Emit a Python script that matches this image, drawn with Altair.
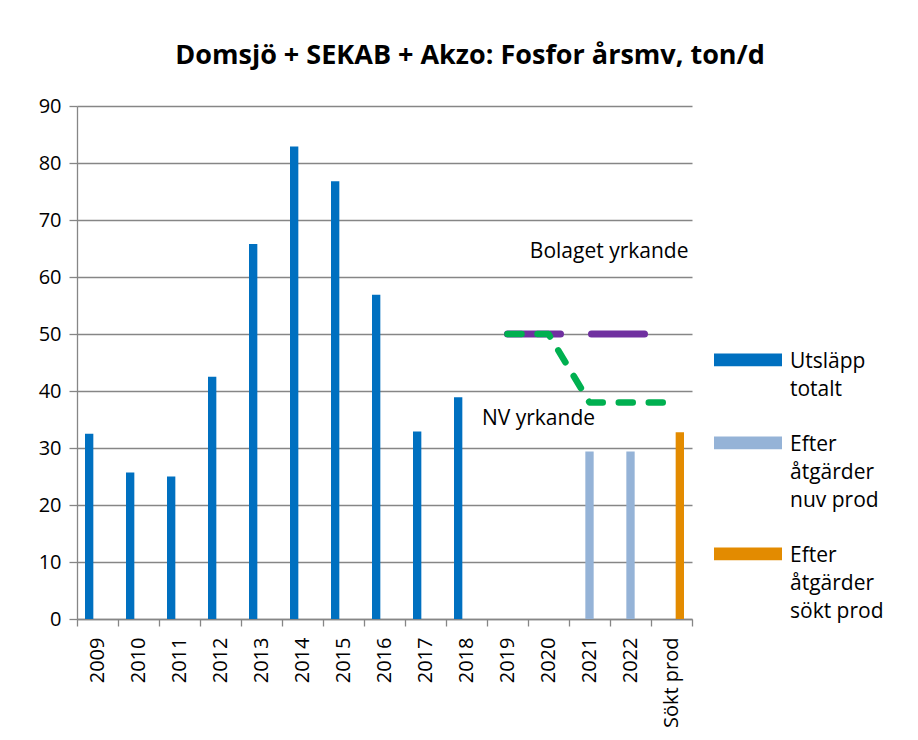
import json
import altair as alt
import pandas as pd

categories = ["2009", "2010", "2011", "2012", "2013", "2014", "2015", "2016",
              "2017", "2018", "2019", "2020", "2021", "2022", "Sökt prod"]
utslapp_totalt = [32.5, 25.7, 25.0, 42.5, 65.8, 82.9, 76.8, 56.9, 32.9, 38.9,
                  None, None, None, None, None]
efter_nuv_prod = [None] * 12 + [29.4, 29.4, None]
efter_sokt_prod = [None] * 14 + [32.75]
bolaget_yrkande = [None] * 10 + [50, 50, 50, 50, 50]
nv_yrkande = [None] * 10 + [50, 50, 38, 38, 38]

series_names = ["Utsläpp totalt", "Efter åtgärder nuv prod", "Efter åtgärder sökt prod"]
series_label_lines = [["Utsläpp", "totalt"], ["Efter", "åtgärder", "nuv prod"],
                      ["Efter", "åtgärder", "sökt prod"]]
series_colors = ["#0070C0", "#95B3D7", "#E38B00"]

annot_text = ["Bolaget yrkande", "NV yrkande"]
annot_cat = ["Sökt prod", "2020"]
annot_val = [64.3, 35.1]

title_text = "Domsjö + SEKAB + Akzo: Fosfor årsmv, ton/d"
FONT = "Open Sans"
GRID = "#868686"

rows = []
for name, vals in zip(series_names, [utslapp_totalt, efter_nuv_prod, efter_sokt_prod]):
    for c, v in zip(categories, vals):
        if v is not None:
            rows.append({"category": c, "series": name, "value": v})
bars_df = pd.DataFrame(rows)

bol_df = pd.DataFrame([{"category": c, "value": v} for c, v in zip(categories, bolaget_yrkande) if v is not None])
nv_df = pd.DataFrame([{"category": c, "value": v} for c, v in zip(categories, nv_yrkande) if v is not None])
ann_df = pd.DataFrame({"category": annot_cat, "value": annot_val, "text": annot_text})

label_expr = ""
for name, lines in zip(series_names, series_label_lines):
    label_expr += f"datum.label == {json.dumps(name, ensure_ascii=False)} ? {json.dumps(lines, ensure_ascii=False)} : "
label_expr += "datum.label"

x_scale = alt.Scale(domain=categories, paddingInner=0, paddingOuter=0)
y_scale = alt.Scale(domain=[0, 90], nice=False)

x_enc = alt.X("category:N", sort=categories, scale=x_scale,
              axis=alt.Axis(title=None, labelAngle=-90, tickBand="extent", tickSize=7,
                            labelPadding=11, grid=False, labelFontSize=20,
                            domainColor=GRID, tickColor=GRID))
y_enc = alt.Y("value:Q", scale=y_scale,
              axis=alt.Axis(title=None, values=list(range(0, 91, 10)), tickSize=8,
                            labelPadding=8, grid=True, labelFontSize=20,
                            gridColor=GRID, gridOpacity=1, gridWidth=1.3,
                            domainColor=GRID, tickColor=GRID))

bars = alt.Chart(bars_df).mark_bar().encode(
    x=x_enc,
    y=y_enc,
    xOffset=alt.XOffset("series:N", sort=series_names,
                        scale=alt.Scale(domain=series_names, paddingInner=0, paddingOuter=0.96)),
    color=alt.Color("series:N", sort=series_names,
                    scale=alt.Scale(domain=series_names, range=series_colors),
                    legend=alt.Legend(title=None, orient="none", legendX=637, legendY=211,
                                      symbolType="M-1,0.07H1V0.45H-1Z", symbolSize=4624,
                                      symbolStrokeWidth=0, symbolOpacity=1,
                                      labelExpr=label_expr, labelFontSize=21, labelFont=FONT,
                                      labelColor="#000000", labelOffset=8, labelBaseline="top",
                                      rowPadding=0, padding=0, labelLimit=300)),
)

bol_line = alt.Chart(bol_df).mark_line(
    color="#7030A0", strokeWidth=7, strokeCap="round", strokeDash=[53, 31]
).encode(x=alt.X("category:N", sort=categories), y="value:Q")

nv_line = alt.Chart(nv_df).mark_line(
    color="#00B050", strokeWidth=6.5, strokeCap="round", strokeJoin="round", strokeDash=[14, 16]
).encode(x=alt.X("category:N", sort=categories), y="value:Q")

ann_bol = alt.Chart(ann_df.iloc[[0]]).mark_text(
    align="right", dx=17, fontSize=21, font=FONT, color="#000000"
).encode(x=alt.X("category:N", sort=categories), y="value:Q", text="text:N")

ann_nv = alt.Chart(ann_df.iloc[[1]]).mark_text(
    align="center", dx=-10, fontSize=21, font=FONT, color="#000000"
).encode(x=alt.X("category:N", sort=categories), y="value:Q", text="text:N")

chart = alt.layer(bars, bol_line, nv_line, ann_bol, ann_nv).properties(
    width=615, height=513,
    title=alt.Title(title_text, fontSize=27, fontWeight="bold", font=FONT, color="#000000",
                    anchor="middle", frame="bounds", offset=26, dx=9),
    padding={"left": 30, "top": 34, "right": 5, "bottom": 5},
).configure(
    style={"guide-label": {"lineHeight": 28}}
).configure_view(
    stroke=None
).configure_axis(
    labelFont=FONT, labelColor="#000000", domainColor=GRID, tickColor=GRID,
    gridColor=GRID, gridWidth=1.3, domainWidth=1.3, tickWidth=1.3
)

chart.save("out.html", embed_options={"renderer": "svg", "actions": False})
